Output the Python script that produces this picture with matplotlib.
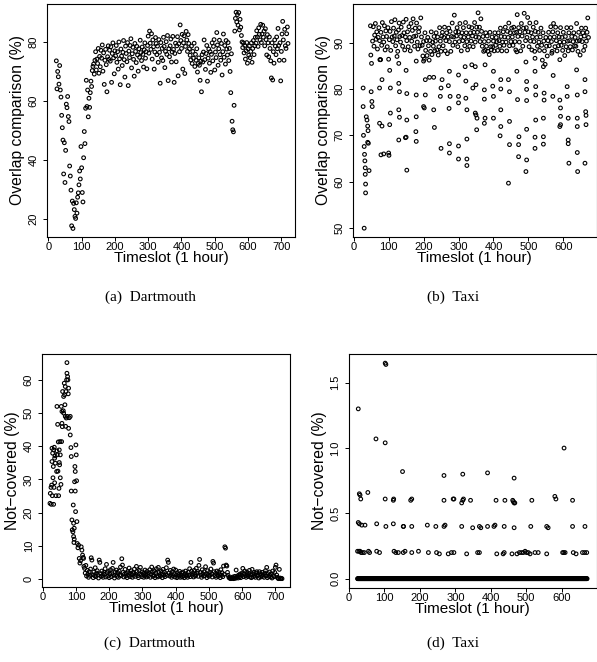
import numpy as np
import matplotlib
matplotlib.use("Agg")
import matplotlib.pyplot as plt

# (a) Dartmouth overlap comparison (%), one reading every 2 timeslots from t=24
dartOverlapStart = 24
dartOverlap = [
    73.7, 64.2, 70.1, 68.3, 65.8, 72.1, 63.8, 61.4, 55.2, 51.0,
    46.8, 35.3, 45.9, 32.4, 43.3, 59.0, 57.8, 61.6, 54.8, 53.1,
    38.0, 34.6, 29.8, 17.7, 26.1, 16.8, 25.3, 23.2, 20.9, 20.2,
    25.5, 22.0, 27.4, 28.9, 31.6, 36.3, 33.6, 44.6, 37.4, 29.0,
    25.8, 40.8, 49.7, 45.6, 57.6, 67.1, 58.2, 63.8, 54.7, 61.0,
    57.9, 62.9, 66.8, 65.0, 70.4, 71.8, 72.6, 69.2, 73.9, 76.8,
    70.6, 74.3, 72.8, 77.9, 69.5, 75.2, 71.7, 77.3, 74.6, 79.1,
    70.2, 76.4, 65.7, 73.9, 77.6, 72.4, 63.2, 75.1, 78.8, 74.2,
    77.3, 73.6, 78.5, 66.4, 76.2, 79.8, 74.7, 69.3, 77.1, 75.4,
    78.9, 73.2, 76.8, 70.9, 80.1, 74.4, 65.6, 77.7, 75.3, 72.1,
    76.6, 80.6, 74.1, 68.2, 78.7, 76.2, 73.4, 79.9, 65.3, 77.0,
    74.8, 78.9, 81.2, 71.3, 76.1, 78.3, 74.2, 68.5, 79.6, 76.9,
    73.1, 78.6, 75.7, 70.2, 77.8, 74.9, 80.7, 76.5, 73.8, 78.4,
    75.9, 71.6, 77.5, 79.8, 74.6, 76.8, 71.0, 78.9, 82.1, 76.3,
    83.8, 79.7, 77.6, 82.9, 74.3, 80.8, 78.5, 70.9, 76.7, 81.6,
    79.6, 75.8, 78.7, 73.2, 80.9, 76.6, 66.1, 79.9, 74.7, 77.9,
    73.8, 81.7, 78.6, 71.4, 76.9, 80.2, 75.9, 82.3, 67.0, 77.8,
    75.1, 78.8, 81.1, 73.3, 76.7, 82.0, 77.6, 66.4, 76.2, 79.7,
    73.4, 78.8, 81.9, 68.6, 79.5, 76.8, 85.9, 80.6, 77.9, 82.7,
    70.9, 79.8, 82.2, 69.4, 78.6, 83.7, 80.8, 76.9, 82.6, 79.6,
    77.8, 75.6, 74.0, 78.7, 72.8, 76.9, 74.6, 79.7, 71.8, 75.9,
    73.9, 77.8, 69.9, 72.8, 74.7, 72.2, 67.1, 73.6, 63.2, 75.8,
    73.3, 76.7, 80.8, 74.1, 70.8, 76.2, 78.9, 66.8, 74.6, 77.7,
    72.9, 76.8, 69.8, 75.9, 79.8, 73.7, 78.6, 80.9, 70.6, 76.7,
    74.8, 83.3, 79.1, 72.2, 77.8, 80.7, 75.8, 73.9, 79.6, 68.9,
    76.8, 82.8, 74.9, 78.9, 72.6, 80.6, 77.7, 75.7, 79.9, 73.8,
    77.9, 70.1, 62.9, 76.1, 53.2, 50.3, 49.6, 58.6, 83.8, 88.1,
    90.2, 86.9, 89.4, 85.8, 90.1, 84.2, 87.8, 85.1, 82.3, 80.1,
    78.2, 79.8, 76.4, 78.9, 74.3, 77.1, 79.9, 72.9, 77.8, 75.6,
    78.7, 74.8, 76.9, 79.8, 73.2, 77.9, 80.6, 75.8, 78.8, 81.7,
    79.7, 83.9, 81.8, 78.6, 84.9, 82.7, 80.8, 86.1, 79.9, 82.8,
    85.8, 81.7, 83.8, 78.8, 84.6, 80.9, 75.7, 82.6, 79.8, 75.1,
    81.8, 77.9, 73.7, 67.9, 79.8, 67.2, 76.8, 72.9, 80.8, 78.7,
    75.8, 81.8, 77.8, 84.7, 78.9, 73.9, 79.8, 66.9, 76.9, 82.8,
    87.1, 80.8, 73.9, 84.4, 78.8, 77.9, 82.9, 85.2, 79.6,
]

# (b) Taxi overlap comparison (%): dense upper band every 2 timeslots from t=54
taxiBandStart = 54
taxiBand = [
    90.3, 93.4, 89.2, 91.6, 94.1, 90.7, 92.3, 88.6, 91.1, 93.2,
    90.4, 86.3, 92.2, 89.4, 94.3, 91.2, 90.1, 93.6, 88.4, 92.5,
    91.3, 89.1, 93.2, 86.4, 90.6, 92.4, 88.3, 94.5, 91.2, 90.2,
    93.1, 91.4, 94.9, 89.3, 92.2, 90.6, 88.1, 92.7, 94.2, 91.3,
    90.1, 93.3, 91.5, 89.2, 94.4, 92.1, 88.4, 91.2, 95.0, 90.4,
    92.3, 89.1, 93.4, 91.1, 88.2, 94.1, 90.3, 92.6, 95.1, 91.3,
    89.2, 93.1, 91.4, 94.2, 90.1, 88.6, 92.3, 93.2, 89.3, 95.3,
    91.2, 89.4, 87.1, 90.2, 86.4, 92.1, 88.3, 90.4, 87.2, 91.1,
    89.3, 86.2, 90.4, 88.1, 92.3, 87.4, 90.1, 89.2, 91.3, 88.2,
    90.3, 92.1, 88.4, 91.2, 87.3, 89.1, 93.2, 90.3, 88.1, 91.4,
    92.2, 89.3, 91.1, 93.3, 88.2, 90.4, 92.1, 87.6, 91.2, 93.1,
    90.2, 92.4, 88.1, 91.3, 94.2, 89.4, 91.2, 95.9, 90.1, 92.3,
    91.4, 93.2, 89.1, 92.3, 90.2, 94.1, 91.3, 88.2, 92.1, 90.4,
    93.2, 91.1, 89.3, 94.3, 92.1, 90.2, 88.4, 91.2, 93.4, 89.2,
    92.1, 90.3, 93.2, 91.4, 89.1, 92.2, 94.3, 90.1, 91.2, 93.3,
    92.2, 96.4, 91.1, 93.3, 90.2, 95.1, 92.4, 89.2, 91.3, 88.1,
    90.2, 88.3, 92.1, 89.2, 91.4, 88.1, 90.3, 87.4, 92.2, 89.1,
    88.4, 91.2, 89.1, 90.3, 88.2, 92.1, 89.4, 91.1, 90.2, 88.3,
    92.1, 90.4, 89.2, 93.1, 91.3, 88.2, 90.1, 92.3, 89.4, 91.2,
    93.3, 90.1, 88.2, 92.4, 91.1, 94.2, 89.3, 92.1, 90.2, 93.1,
    91.2, 89.4, 93.3, 92.1, 90.2, 88.4, 92.2, 96.0, 91.3, 93.2,
    90.1, 92.3, 88.2, 94.1, 91.4, 89.2, 93.1, 96.3, 92.2, 90.4,
    93.2, 91.1, 95.4, 92.3, 89.1, 94.2, 90.3, 92.1, 88.4, 91.2,
    93.3, 90.2, 88.1, 92.4, 94.3, 91.1, 89.2, 92.2, 90.1, 88.3,
    91.2, 93.1, 89.4, 86.2, 92.1, 90.3, 88.2, 85.3, 91.1, 89.2,
    87.1, 90.4, 92.2, 89.3, 91.1, 93.4, 90.2, 88.1, 92.3, 94.1,
    91.2, 89.1, 93.3, 90.4, 88.2, 92.1, 89.3, 91.2, 90.1, 93.2,
    89.4, 91.1, 88.3, 92.2, 90.1, 87.2, 91.3, 89.1, 93.2, 90.3,
    88.2, 92.1, 90.4, 89.1, 93.2, 91.3, 88.4, 90.2, 92.1, 89.3,
    91.1, 89.2, 94.1, 90.3, 88.1, 92.2, 90.4, 87.3, 91.2, 93.1,
    90.2, 92.1, 88.3, 91.4, 89.2, 93.1, 90.3, 92.2, 95.3, 91.1,
]
# (b) scattered lower readings
taxiLowT = [27, 27, 28, 30, 30, 31, 32, 33, 33, 34, 34, 36, 38, 40, 41, 40, 42, 44,
            48, 49, 51, 50, 52, 53,
            75, 77, 81, 74, 74, 81, 78, 86, 105, 103, 103, 105, 100, 101,
            124, 129, 129, 131, 129, 131, 129,
            150, 152, 150, 152, 152, 148,
            179, 179, 179, 178, 179,
            200, 205, 205, 200, 202,
            217, 229, 229, 231,
            250, 248, 250, 253,
            274, 271, 273, 274, 274, 276,
            300, 300, 300, 300, 300,
            319, 321, 321, 324, 324, 324, 324,
            338, 341, 348, 348, 350, 350, 353, 352,
            376, 374, 374, 376, 374,
            400, 398, 400, 400,
            421, 421, 421, 421, 419,
            443, 446, 446, 446, 443,
            467, 467, 469, 472, 472, 473,
            493, 495, 495, 495, 495, 495, 493,
            519, 519, 521, 521, 521, 519, 519,
            543, 545, 545, 543, 543, 543,
            567, 570, 571,
            590, 590, 592, 592, 592, 590,
            611, 611, 614, 614, 614, 616,
            638, 640, 640, 640, 640, 641,
            662, 662, 664, 665, 665, 662]
taxiLowY = [80.2, 76.2, 70.0, 67.6, 50.0, 65.9, 64.5, 63.0, 61.6, 59.5, 57.6, 74.0, 73.3, 72.0, 71.0, 68.5, 68.3, 62.4,
            93.6, 87.3, 85.5, 79.4, 77.3, 76.2,
            86.3, 86.3, 82.0, 80.2, 72.6, 72.0, 65.8, 66.0, 74.8, 72.3, 84.0, 80.2, 66.2, 65.7,
            87.0, 85.5, 81.2, 79.4, 75.5, 73.9, 69.0,
            84.0, 79.0, 69.6, 73.3, 62.5, 69.5,
            86.0, 78.7, 74.0, 70.8, 68.7,
            86.0, 82.0, 78.7, 76.2, 75.9,
            82.5, 82.5, 75.5, 71.7,
            80.2, 78.4, 67.2, 82.0,
            83.8, 80.7, 75.8, 68.2, 66.2, 78.4,
            83.0, 78.4, 77.0, 67.7, 64.9,
            84.8, 81.7, 78.0, 75.5, 69.2, 64.9, 63.5,
            85.2, 80.2, 84.8, 74.8, 80.9, 74.4, 73.7, 71.2,
            85.2, 79.8, 77.8, 73.7, 72.6,
            83.8, 80.6, 78.4, 73.7,
            82.0, 80.0, 75.5, 71.9, 69.9,
            82.0, 79.4, 73.0, 68.0, 59.7,
            88.0, 83.8, 77.7, 68.0, 65.4, 69.7,
            85.8, 81.6, 79.9, 77.5, 71.3, 64.7, 62.2,
            86.6, 83.8, 80.5, 78.7, 73.3, 69.6, 67.2,
            84.8, 79.1, 77.6, 73.7, 69.7, 68.1,
            87.7, 78.4, 82.9,
            86.3, 77.6, 75.9, 74.1, 72.3, 71.9,
            80.5, 78.4, 73.7, 69.0, 68.2, 64.0,
            84.1, 78.7, 73.7, 71.9, 66.3, 62.2,
            82.0, 79.4, 75.1, 74.3, 72.3, 64.0]

# (c) Dartmouth not-covered (%): early readings, then every 2 timeslots from t=126
dartNcEarlyT = [22, 23, 25, 26, 27, 28, 28, 29, 30, 31, 32, 33, 33, 34, 35, 36, 36, 37, 38, 40,
                42, 43, 43, 44, 45, 46, 47, 48, 49, 50, 50, 51, 52, 53, 53, 55, 56, 57, 58, 58,
                59, 60, 62, 63, 63, 65, 66, 67, 68, 68, 69, 70, 71, 72, 73, 73, 74, 75, 76, 77,
                78, 78, 80, 83, 83, 85, 86, 86, 88, 89, 91, 92, 93, 93, 94, 95, 95, 96, 97, 98,
                98, 99, 100, 101, 102, 103, 104, 106, 108, 110, 112, 114, 116, 118, 120, 122, 123, 124]
dartNcEarly = [22.8, 25.8, 27.6, 22.5, 28.3, 35.4, 39.4, 25.1, 37.9, 30.5, 33.9, 38.9, 22.5, 27.6, 39.7, 36.4, 29.0, 37.1, 34.9, 25.1,
               32.4, 52.0, 38.6, 37.4, 46.6, 32.5, 41.3, 25.1, 27.3, 38.9, 35.1, 34.4, 41.4, 37.4, 30.5, 28.5, 52.0, 41.4, 50.5, 46.9,
               45.9, 56.5, 50.7, 50.0, 55.0, 59.0, 55.5, 52.5, 58.0, 49.0, 46.0, 56.5, 48.5, 60.0, 65.2, 62.0, 49.0, 61.0, 60.0, 55.8,
               57.5, 45.4, 48.6, 49.0, 43.4, 39.6, 36.9, 26.5, 17.8, 14.8, 14.2, 22.3, 16.8, 12.8, 11.0, 15.3, 12.0, 29.3, 33.9, 32.4,
               26.5, 20.3, 40.4, 37.4, 29.6, 17.3, 10.7, 9.4, 10.2, 6.2, 4.8, 5.5, 9.7, 8.7, 7.2, 6.5, 6.2, 3.8]
dartNcStart = 126
dartNc = [
    3.2, 1.8, 4.1, 0.9, 2.6, 1.4, 0.5, 2.2, 1.1, 3.0,
    6.4, 5.7, 1.3, 0.4, 2.1, 1.0, 3.4, 0.7, 1.8, 2.5,
    1.2, 0.3, 5.7, 5.0, 1.6, 0.8, 2.4, 1.1, 0.5, 2.0,
    1.4, 3.1, 0.6, 4.4, 1.9, 0.9, 2.3, 0.4, 1.5, 2.8,
    0.7, 1.6, 3.2, 5.0, 1.1, 0.3, 2.1, 1.3, 2.7, 0.8,
    1.9, 0.5, 2.4, 1.2, 3.6, 1.0, 6.1, 4.2, 2.0, 0.6,
    1.5, 2.9, 0.9, 1.7, 0.4, 2.2, 1.1, 3.3, 1.8, 0.7,
    2.5, 1.3, 0.5, 2.0, 1.6, 3.0, 0.8, 1.4, 3.8, 2.3,
    1.0, 0.4, 2.6, 1.5, 3.5, 1.2, 0.7, 2.1, 1.6, 0.5,
    1.8, 2.7, 1.1, 0.6, 2.3, 1.4, 0.9, 1.9, 2.8, 0.5,
    1.5, 3.6, 2.2, 0.8, 1.2, 2.5, 0.4, 1.7, 3.1, 1.0,
    0.6, 3.5, 2.0, 1.3, 0.8, 2.4, 1.5, 0.4, 2.9, 1.2,
    2.1, 0.7, 1.6, 3.4, 1.1, 5.7, 5.0, 1.8, 0.9, 2.6,
    1.3, 0.5, 2.2, 1.0, 3.0, 1.6, 0.6, 2.7, 1.2, 0.4,
    1.9, 0.8, 1.4, 2.3, 0.5, 1.1, 1.8, 0.6, 2.1, 1.0,
    0.4, 1.6, 2.4, 0.9, 1.3, 0.5, 2.0, 1.2, 3.1, 0.7,
    5.0, 2.4, 1.1, 1.8, 0.6, 2.6, 1.4, 0.9, 3.2, 1.7,
    2.3, 0.8, 4.1, 5.9, 2.0, 1.2, 0.5, 2.8, 1.5, 0.9,
    2.2, 1.0, 3.7, 1.6, 0.4, 2.5, 1.3, 0.8, 2.0, 1.1,
    3.0, 1.6, 0.6, 5.3, 4.8, 2.2, 1.0, 1.7, 0.5, 2.4,
    1.2, 0.8, 2.1, 1.5, 0.4, 2.8, 1.1, 1.9, 0.7, 3.9,
    1.4, 9.7, 9.3, 4.2, 3.9, 2.0, 1.1, 0.5, 0.3, 0.2,
    0.1, 0.4, 0.2, 0.6, 0.1, 0.3, 0.8, 0.2, 2.7, 0.5,
    0.9, 0.3, 1.2, 0.6, 1.5, 0.4, 1.1, 1.8, 3.2, 0.7,
    1.6, 2.4, 1.0, 0.5, 2.1, 1.3, 0.8, 1.7, 2.6, 0.6,
    1.2, 0.4, 2.9, 1.5, 0.7, 2.0, 1.1, 0.5, 1.8, 2.2,
    0.9, 1.4, 0.3, 2.2, 1.6, 0.6, 1.2, 2.0, 0.8, 1.3,
    0.5, 1.8, 2.5, 1.0, 3.5, 0.4, 1.6, 0.8, 2.1, 1.1,
    0.6, 1.5, 0.3, 2.4, 1.0, 0.7, 2.0, 3.5, 4.2, 1.2,
    0.5, 0.2, 0.1, 2.9, 0.3, 0.1, 0.2, 0.1,
]

# (d) Taxi not-covered (%): zero at every timeslot 24..672, plus these non-zero readings
taxiNcZeroFirst, taxiNcZeroLast = 24, 672
taxiNcT = [26, 29, 31, 33, 26, 29, 36, 45, 24, 28, 31, 34, 38, 43, 53, 55, 58, 76, 78, 78, 86,
           102, 104, 102, 102, 104, 125, 126, 125, 127, 132, 139, 151, 153, 154, 153, 158,
           174, 177, 177, 177, 196, 221, 224, 245, 247, 255, 268, 268, 268, 271, 280, 289, 296,
           294, 296, 318, 321, 321, 318, 323, 332, 343, 349, 363, 368, 368, 372, 391, 391, 409,
           412, 415, 417, 435, 438, 438, 440, 462, 464, 466, 468, 466, 466, 460, 474, 481, 487,
           492, 497, 501, 506, 511, 513, 516, 525, 534, 558, 558, 562, 581, 584, 603, 606, 610,
           607, 631, 631, 633, 641, 659, 665, 671, 666]
taxiNc = [1.30, 0.65, 0.64, 0.61, 0.43, 0.42, 0.41, 0.41, 0.21, 0.21, 0.21, 0.20, 0.20, 0.20, 0.66, 0.21, 0.20, 1.07, 0.42, 0.21, 0.20,
          1.65, 1.64, 1.04, 0.61, 0.40, 0.60, 0.61, 0.42, 0.21, 0.20, 0.20, 0.82, 0.40, 0.40, 0.20, 0.21,
          0.60, 0.61, 0.40, 0.20, 0.21, 0.41, 0.20, 0.40, 0.20, 0.19, 0.79, 0.60, 0.40, 0.41, 0.19, 0.20, 0.20,
          0.61, 0.61, 0.40, 0.80, 0.60, 0.58, 0.61, 0.19, 0.60, 0.39, 0.20, 0.20, 0.40, 0.39, 0.81, 0.40, 0.40,
          0.41, 0.60, 0.19, 0.19, 0.20, 0.40, 0.60, 0.60, 0.59, 0.58, 0.58, 0.77, 0.39, 0.19, 0.19, 0.20, 0.20,
          0.20, 0.21, 0.20, 0.20, 0.19, 0.40, 0.60, 0.20, 0.20, 0.19, 0.40, 0.39, 0.63, 0.61, 0.20, 0.20, 0.20,
          1.00, 0.60, 0.40, 0.20, 0.19, 0.20, 0.20, 0.20, 0.40]

sansFont = "Liberation Sans"
serifFont = "Liberation Serif"

fig = plt.figure(figsize=(5.97, 6.62), dpi=100)
W, H = 597.0, 662.0


def drawPanel(box, t, y, xlim, ylim, xticks, yticks, yticklabels, ylabel, caption, captionX, captionY):
    left, top, right, bottom = box
    ax = fig.add_axes([left / W, 1 - bottom / H, (right - left) / W, (bottom - top) / H])
    ax.scatter(t, y, s=7, facecolors="none", edgecolors="black", linewidths=0.8, clip_on=False)
    ax.set_xlim(xlim)
    ax.set_ylim(ylim)
    ax.set_xticks(xticks)
    ax.set_xticklabels([str(v) for v in xticks], fontfamily=sansFont, fontsize=8)
    ax.set_yticks(yticks)
    ax.set_yticklabels(yticklabels, rotation=90, va="center", fontfamily=sansFont, fontsize=8)
    ax.tick_params(axis="x", direction="out", length=3, width=0.7, pad=0.5)
    ax.tick_params(axis="y", direction="out", length=3, width=0.7, pad=3)
    for s in ax.spines.values():
        s.set_linewidth(0.8)
    ax.set_xlabel("Timeslot (1 hour)", fontfamily=sansFont, fontsize=11, va="center")
    ax.xaxis.set_label_coords(0.5, -21.0 / (bottom - top))
    ax.set_ylabel(ylabel, fontfamily=sansFont, fontsize=11.3)
    ax.yaxis.set_label_coords(-22.0 / (right - left), 0.5)
    fig.text(captionX / W, 1 - captionY / H, caption, ha="center", va="center",
             fontfamily=serifFont, fontsize=11)
    return ax


tA = dartOverlapStart + 2 * np.arange(len(dartOverlap))
drawPanel((47, 4, 295, 237), tA, dartOverlap, (-4, 741), (13.9, 93),
          range(0, 701, 100), [20, 40, 60, 80], ["20", "40", "60", "80"],
          "Overlap comparison (%)", "(a)  Dartmouth", 150, 297)

tB = taxiBandStart + 2 * np.arange(len(taxiBand))
drawPanel((353, 4, 596.5, 237), np.concatenate([tB, taxiLowT]), np.concatenate([taxiBand, taxiLowY]),
          (-2, 695), (48.1, 98.3),
          range(0, 601, 100), [50, 60, 70, 80, 90], ["50", "60", "70", "80", "90"],
          "Overlap comparison (%)", "(b)  Taxi", 453, 297)

tC = dartNcStart + 2 * np.arange(len(dartNc))
drawPanel((42, 354, 290, 587.3), np.concatenate([dartNcEarlyT, tC]), np.concatenate([dartNcEarly, dartNc]),
          (-2, 744), (-2.5, 67.8),
          range(0, 701, 100), [0, 10, 20, 30, 40, 50, 60], ["0", "10", "20", "30", "40", "50", "60"],
          "Not\u2212covered (%)", "(c)  Dartmouth", 150, 643)

zeroT = np.arange(taxiNcZeroFirst, taxiNcZeroLast + 1)
drawPanel((348.7, 354, 597, 587.7), np.concatenate([zeroT, taxiNcT]),
          np.concatenate([np.zeros(len(zeroT)), taxiNc]),
          (-1, 700), (-0.069, 1.72),
          range(0, 601, 100), [0.0, 0.5, 1.0, 1.5], ["0.0", "0.5", "1.0", "1.5"],
          "Not\u2212covered (%)", "(d)  Taxi", 453, 643)

fig.savefig("out.png", dpi=100)
